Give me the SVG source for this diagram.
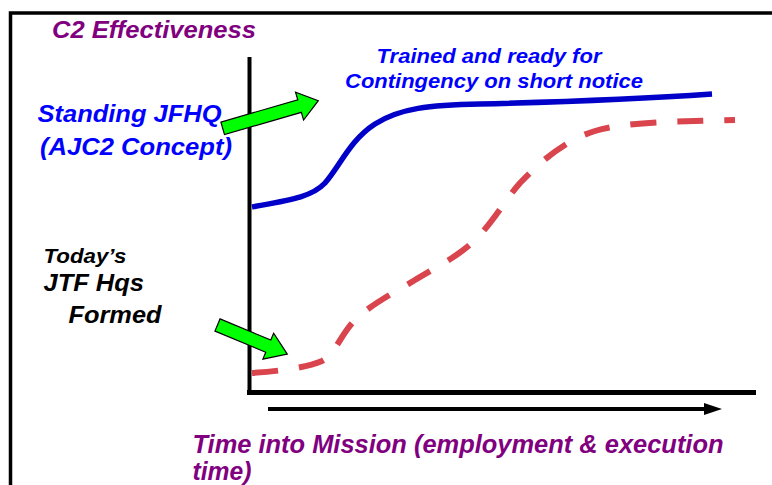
<svg xmlns="http://www.w3.org/2000/svg" width="772" height="485" viewBox="0 0 772 485">
<style>
text{font-family:"Liberation Sans",Arial,sans-serif;font-weight:bold;font-style:italic}
.pur{fill:#800080}
.blu{fill:#0000FF}
.blk{fill:#000}
.garrow{fill:#00FF00;stroke:#000;stroke-width:1.2;stroke-linejoin:miter}
.ax{stroke:#000;fill:none}
</style>
<rect width="772" height="485" fill="#fff"/>
<g id="frame">
<path d="M10.5,485 V13 H772" class="ax" stroke-width="3.5"/>
</g>
<g id="axes">
<path d="M249.5,57 V392" class="ax" stroke-width="4"/>
<path d="M247,392.5 H756" class="ax" stroke-width="5"/>
</g>
<g id="connectors">
<path id="blue-curve" d="M252,207 C290,200 312,197 325,183 C340,166 350,140 375,124 C400,108 430,105 480,104 C560,102 640,99 712,94" fill="none" stroke="#0000C8" stroke-width="5.5"/>
<path id="red-curve" d="M252,373 C280,371 305,368 322,361 C335,355 340,335 355,320 C370,305 395,292 415,280 C440,265 460,255 475,240 C495,220 505,200 520,183 C540,162 565,140 595,131 C625,122 680,121 735,120" fill="none" stroke="#D9444D" stroke-width="6" stroke-dasharray="26 21"/>
<g id="time-arrow">
<path d="M268,409 H708" class="ax" stroke-width="4"/>
<polygon points="704,403 722,409 704,415" fill="#000"/>
</g>
</g>
<g id="arrow-standing">
<polygon class="garrow" transform="translate(222.7,128.3) rotate(-16.1)" points="0,-6.5 80,-6.5 80,-14.5 99.5,0 80,14.5 80,6.5 0,6.5"/>
</g>
<g id="arrow-today">
<polygon class="garrow" transform="translate(217.5,325) rotate(22.6)" points="0,-6.6 55,-6.6 55,-14 75.6,0 55,14 55,6.6 0,6.6"/>
</g>
<g id="label-c2">
<text x="52" y="38" font-size="24" class="pur" textLength="204" lengthAdjust="spacingAndGlyphs">C2 Effectiveness</text>
</g>
<g id="label-trained">
<text x="376.5" y="63" font-size="21" class="blu" textLength="225" lengthAdjust="spacingAndGlyphs">Trained and ready for</text>
<text x="345" y="88" font-size="21" class="blu" textLength="298" lengthAdjust="spacingAndGlyphs">Contingency on short notice</text>
</g>
<g id="label-standing">
<text x="37.5" y="121.5" font-size="24" class="blu" textLength="184" lengthAdjust="spacingAndGlyphs">Standing JFHQ</text>
<text x="40" y="155" font-size="24" class="blu" textLength="192" lengthAdjust="spacingAndGlyphs">(AJC2 Concept)</text>
</g>
<g id="label-today">
<text x="43.5" y="262.5" font-size="20" class="blk" textLength="83" lengthAdjust="spacingAndGlyphs">Today’s</text>
<text x="43.5" y="291" font-size="23" class="blk" textLength="100.5" lengthAdjust="spacingAndGlyphs">JTF Hqs</text>
<text x="68.5" y="323" font-size="23" class="blk" textLength="93" lengthAdjust="spacingAndGlyphs">Formed</text>
</g>
<g id="label-time">
<text x="192.5" y="453" font-size="25" class="pur" textLength="531" lengthAdjust="spacingAndGlyphs">Time into Mission (employment &amp; execution</text>
<text x="192.5" y="479.5" font-size="25" class="pur" textLength="59" lengthAdjust="spacingAndGlyphs">time)</text>
</g>
</svg>
